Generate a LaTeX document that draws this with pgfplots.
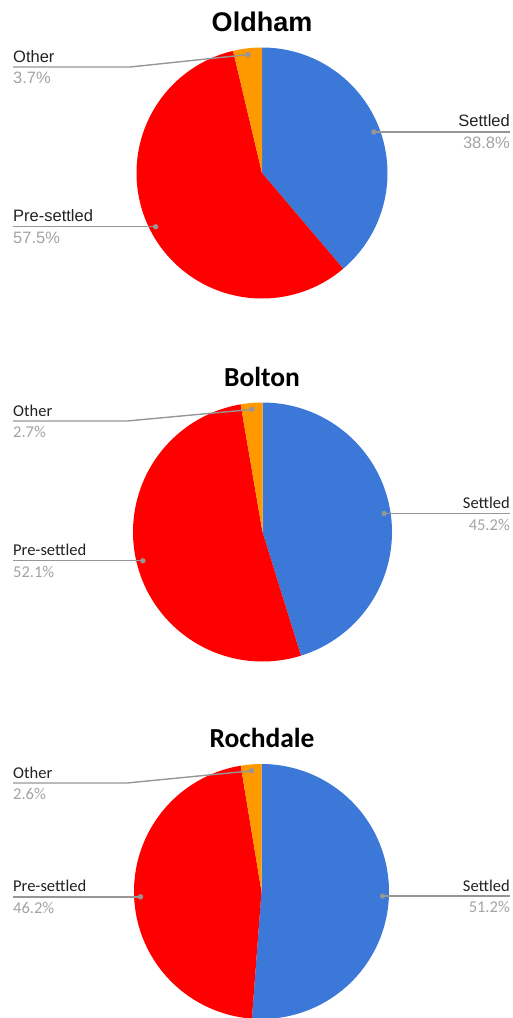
\documentclass[border=0pt]{standalone}
\usepackage{pgfplots}
\pgfplotsset{compat=1.18}
\usepackage{fontspec}
\setmainfont{Liberation Sans}
\newfontfamily\arialf{Liberation Sans}
\newfontfamily\calf{Carlito}
\definecolor{cblue}{HTML}{3C78D8}
\definecolor{cred}{HTML}{FF0000}
\definecolor{corange}{HTML}{FF9900}
\definecolor{lgray}{HTML}{969696}
\definecolor{pgray}{HTML}{A3A3A3}
\definecolor{tdark}{HTML}{222222}

% #1 settled, #2 pre-settled, #3 other, #4 name prefix
\newcommand\drawpie[4]{%
 \addplot[fill=cblue,draw=none,domain={90-3.6*#1}:90,samples=150,variable=\t] ({cos(\t)},{sin(\t)}) -- (axis cs:0,0) -- cycle;
 \addplot[fill=cred,draw=none,domain={90-3.6*(#1+#2)}:{90-3.6*#1},samples=150,variable=\t] ({cos(\t)},{sin(\t)}) -- (axis cs:0,0) -- cycle;
 \addplot[fill=corange,draw=none,domain={90-3.6*(#1+#2+#3)}:{90-3.6*(#1+#2)},samples=20,variable=\t] ({cos(\t)},{sin(\t)}) -- (axis cs:0,0) -- cycle;
 \coordinate (#4S) at (axis cs:{0.95*cos(90-1.8*#1)},{0.95*sin(90-1.8*#1)});
 \coordinate (#4P) at (axis cs:{0.95*cos(90-3.6*#1-1.8*#2)},{0.95*sin(90-3.6*#1-1.8*#2)});
 \coordinate (#4O) at (axis cs:{0.95*cos(90-3.6*(#1+#2)-1.8*#3)},{0.95*sin(90-3.6*(#1+#2)-1.8*#3)});
}
\pgfplotsset{pieax/.style={hide axis, scale only axis, xmin=-1,xmax=1,ymin=-1,ymax=1, anchor=center, clip=false}}

% labels: #1 prefix, #2 font, #3 settled pct, #4 pre pct, #5 other pct, #6 other line y, #7 other bend x
\newcommand\pielabels[7]{%
 \draw[lgray,line width=1.4pt] (#1S) -- (#1S -| R);
 \draw[lgray,line width=1.4pt] (#1P) -- (#1P -| L);
 \draw[lgray,line width=1.4pt] (#1O) -- (#7pt,#6pt) -- (13pt,#6pt);
 \fill[lgray] (#1S) circle (2.7pt);
 \fill[lgray] (#1P) circle (2.7pt);
 \fill[lgray] (#1O) circle (2.7pt);
 \node[anchor=base east,inner sep=0,text=tdark,font=#2,yshift=5pt] at (#1S -| R) {Settled};
 \node[anchor=base east,inner sep=0,text=pgray,font=#2,yshift=-16.5pt] at (#1S -| R) {#3\%};
 \node[anchor=base west,inner sep=0,text=tdark,font=#2,yshift=5pt] at (#1P -| L) {Pre-settled};
 \node[anchor=base west,inner sep=0,text=pgray,font=#2,yshift=-16.5pt] at (#1P -| L) {#4\%};
 \node[anchor=base west,inner sep=0,text=tdark,font=#2,yshift=5pt] at (13pt,#6pt) {Other};
 \node[anchor=base west,inner sep=0,text=pgray,font=#2,yshift=-16.5pt] at (13pt,#6pt) {#5\%};
}

\begin{document}
\begin{tikzpicture}[x=1pt,y=1pt]
\path[use as bounding box] (0pt,0pt) rectangle (513pt,-1018pt);
\coordinate (L) at (13pt,0pt);
\coordinate (R) at (510pt,0pt);

% Oldham
\begin{axis}[pieax, width=251pt, height=251pt, at={(262pt,-173pt)}]
\drawpie{38.8}{57.5}{3.7}{Old}
\end{axis}
\node[font=\arialf\bfseries\fontsize{27}{30}\selectfont] at (262pt,-22pt) {Oldham};
\pielabels{Old}{\arialf\fontsize{16.5}{18}\selectfont}{38.8}{57.5}{3.7}{-67}{130}

% Bolton
\begin{axis}[pieax, width=259pt, height=259pt, at={(262.5pt,-532pt)}]
\drawpie{45.2}{52.1}{2.7}{Bol}
\end{axis}
\node[font=\calf\bfseries\fontsize{27.5}{30}\selectfont] at (262pt,-377pt) {Bolton};
\pielabels{Bol}{\calf\fontsize{16.5}{18}\selectfont}{45.2}{52.1}{2.7}{-421}{127}

% Rochdale
\begin{axis}[pieax, width=255pt, height=255pt, at={(261.5pt,-891.5pt)}]
\drawpie{51.2}{46.2}{2.6}{Roc}
\end{axis}
\node[font=\calf\bfseries\fontsize{27.5}{30}\selectfont] at (262pt,-738pt) {Rochdale};
\pielabels{Roc}{\calf\fontsize{16.5}{18}\selectfont}{51.2}{46.2}{2.6}{-783}{127}
\end{tikzpicture}
\end{document}
